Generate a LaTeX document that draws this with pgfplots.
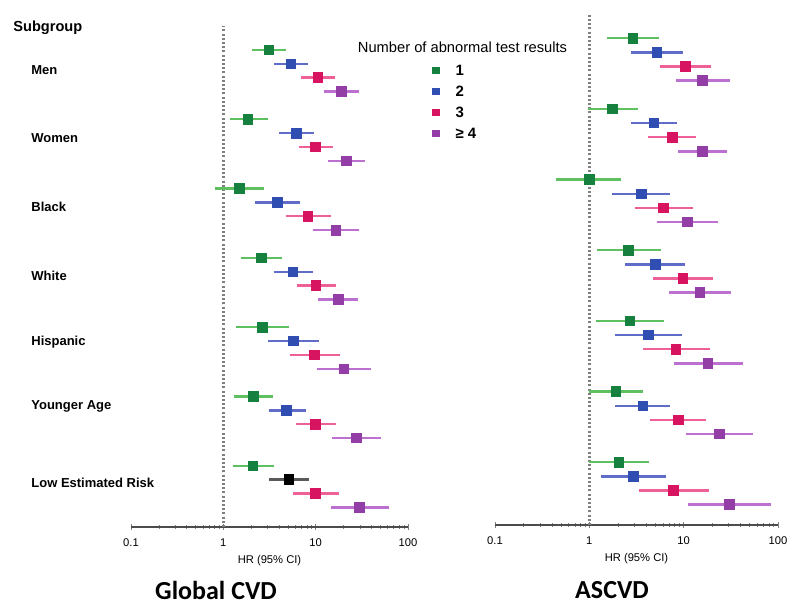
\documentclass[border=0pt]{standalone}
\usepackage{pgfplots}
\pgfplotsset{compat=1.18}
\usepackage{fontspec}
\setmainfont{Liberation Sans}
\newfontfamily\titlefont{Carlito}

\definecolor{gmk}{RGB}{22,128,62}
\definecolor{gln}{RGB}{95,192,95}
\definecolor{bmk}{RGB}{48,78,178}
\definecolor{bln}{RGB}{95,108,200}
\definecolor{pmk}{RGB}{214,20,96}
\definecolor{pln}{RGB}{240,96,152}
\definecolor{umk}{RGB}{146,62,166}
\definecolor{uln}{RGB}{188,112,208}
\definecolor{kmk}{RGB}{0,0,0}
\definecolor{kln}{RGB}{90,90,90}

\begin{document}
\begin{tikzpicture}
\useasboundingbox (0,0) rectangle (400pt,-305.5pt);

% ---------- Global CVD ----------
\begin{axis}[
  at={(65.5pt,-263.5pt)}, anchor=south west,
  scale only axis, clip=false,
  width=138.5pt, height=250.5pt,
  xmode=log, xmin=0.1, xmax=100,
  ymin=-34.42, ymax=1.73,
  axis x line=bottom, axis y line=none,
  axis line style={-, black!70, line width=0.9pt},
  xtick={0.1,1,10,100}, xticklabels={\mbox{0.1},\mbox{1},\mbox{10},\mbox{100}},
  tick align=center, major tick length=3pt, minor tick length=1.6pt,
  xticklabel style={font=\fontsize{5.6}{6}\selectfont, yshift=-1pt},
  xlabel={HR (95\% CI)},
  xlabel style={font=\fontsize{5.6}{6}\selectfont, yshift=2.5pt},
  legend style={at={(axis description cs:1.088,0.930)}, anchor=north west,
    draw=none, fill=none, inner sep=0pt, column sep=7pt, row sep=1.5pt,
    font=\fontsize{7.5}{8}\selectfont\bfseries,
    nodes={inner sep=1pt, text height=6pt, text depth=1pt}},
  legend cell align=left,
]
\addlegendimage{only marks, mark=square*, mark size=1.7pt, gmk}
\addlegendentry{1}
\addlegendimage{only marks, mark=square*, mark size=1.7pt, bmk}
\addlegendentry{2}
\addlegendimage{only marks, mark=square*, mark size=1.7pt, pmk}
\addlegendentry{3}
\addlegendimage{only marks, mark=square*, mark size=1.7pt, umk}
\addlegendentry{≥ 4}

\addplot[forget plot, gray, line width=1.2pt, dash pattern=on 1pt off 1.1pt] coordinates {(1,-34.42) (1,1.73)};
% 95% CI (lower, upper)
\addplot[forget plot, line width=1.2pt, unbounded coords=jump, gln] coordinates {(2.04,0) (4.80,0) (nan,nan) (1.17,-5) (3.01,-5) (nan,nan) (0.82,-10) (2.77,-10) (nan,nan) (1.55,-15) (4.31,-15) (nan,nan) (1.37,-20) (5.13,-20) (nan,nan) (1.32,-25) (3.45,-25) (nan,nan) (1.26,-30) (3.50,-30)};
\addplot[forget plot, line width=1.2pt, unbounded coords=jump, bln] coordinates {(3.56,-1) (8.24,-1) (nan,nan) (4.03,-6) (9.63,-6) (nan,nan) (2.22,-11) (6.80,-11) (nan,nan) (3.50,-16) (9.33,-16) (nan,nan) (3.07,-21) (10.9,-21) (nan,nan) (3.12,-26) (7.83,-26)};
\addplot[forget plot, line width=1.2pt, kln] coordinates {(3.12,-31) (8.44,-31)};
\addplot[forget plot, line width=1.2pt, unbounded coords=jump, pln] coordinates {(6.97,-2) (16.1,-2) (nan,nan) (6.52,-7) (15.6,-7) (nan,nan) (4.76,-12) (14.5,-12) (nan,nan) (6.26,-17) (16.5,-17) (nan,nan) (5.21,-22) (18.5,-22) (nan,nan) (6.11,-27) (16.7,-27) (nan,nan) (5.71,-32) (17.8,-32)};
\addplot[forget plot, line width=1.2pt, unbounded coords=jump, uln] coordinates {(12.4,-3) (29.7,-3) (nan,nan) (13.5,-8) (34.0,-8) (nan,nan) (9.33,-13) (29.7,-13) (nan,nan) (10.6,-18) (28.8,-18) (nan,nan) (10.3,-23) (40.1,-23) (nan,nan) (15.1,-28) (50.7,-28) (nan,nan) (14.6,-33) (62.3,-33)};
% HR point estimates
\addplot[forget plot, only marks, mark=square*, mark size=2.4pt, gmk] coordinates {(3.12,0) (1.85,-5) (1.50,-10) (2.57,-15) (2.64,-20) (2.13,-25) (2.09,-30)};
\addplot[forget plot, only marks, mark=square*, mark size=2.4pt, bmk] coordinates {(5.39,-1) (6.20,-6) (3.86,-11) (5.67,-16) (5.71,-21) (4.83,-26)};
\addplot[forget plot, only marks, mark=square*, mark size=2.4pt, kmk] coordinates {(5.13,-31)};
\addplot[forget plot, only marks, mark=square*, mark size=2.4pt, pmk] coordinates {(10.6,-2) (9.95,-7) (8.24,-12) (10.1,-17) (9.63,-22) (10.0,-27) (10.0,-32)};
\addplot[forget plot, only marks, mark=square*, mark size=2.4pt, umk] coordinates {(18.9,-3) (21.4,-8) (16.5,-13) (17.5,-18) (20.3,-23) (27.6,-28) (29.7,-33)};
\end{axis}

% ---------- ASCVD ----------
\begin{axis}[
  at={(247.5pt,-262.5pt)}, anchor=south west,
  scale only axis, clip=false,
  width=141.5pt, height=256pt,
  xmode=log, xmin=0.1, xmax=100,
  ymin=-34.44, ymax=1.79,
  axis x line=bottom, axis y line=none,
  axis line style={-, black!70, line width=0.9pt},
  xtick={0.1,1,10,100}, xticklabels={\mbox{0.1},\mbox{1},\mbox{10},\mbox{100}},
  tick align=center, major tick length=3pt, minor tick length=1.6pt,
  xticklabel style={font=\fontsize{5.6}{6}\selectfont, yshift=-1pt},
  xlabel={HR (95\% CI)},
  xlabel style={font=\fontsize{5.6}{6}\selectfont, yshift=2.5pt},
]
\addplot[forget plot, gray, line width=1.2pt, dash pattern=on 1pt off 1.1pt] coordinates {(1,-34.44) (1,1.79)};
\addplot[forget plot, line width=1.2pt, unbounded coords=jump, gln] coordinates {(1.54,0) (5.52,0) (nan,nan) (0.96,-5) (3.28,-5) (nan,nan) (0.44,-10) (2.18,-10) (nan,nan) (1.22,-15) (5.80,-15) (nan,nan) (1.18,-20) (6.14,-20) (nan,nan) (1.00,-25) (3.67,-25) (nan,nan) (1.00,-30) (4.30,-30)};
\addplot[forget plot, line width=1.2pt, unbounded coords=jump, bln] coordinates {(2.79,-1) (9.76,-1) (nan,nan) (2.74,-6) (8.51,-6) (nan,nan) (1.75,-11) (7.23,-11) (nan,nan) (2.41,-16) (10.4,-16) (nan,nan) (1.87,-21) (9.62,-21) (nan,nan) (1.87,-26) (7.11,-26) (nan,nan) (1.33,-31) (6.51,-31)};
\addplot[forget plot, line width=1.2pt, unbounded coords=jump, pln] coordinates {(5.66,-2) (19.7,-2) (nan,nan) (4.22,-7) (13.4,-7) (nan,nan) (3.02,-12) (12.5,-12) (nan,nan) (4.77,-17) (20.5,-17) (nan,nan) (3.71,-22) (18.9,-22) (nan,nan) (4.43,-27) (17.4,-27) (nan,nan) (3.37,-32) (18.7,-32)};
\addplot[forget plot, line width=1.2pt, unbounded coords=jump, uln] coordinates {(8.30,-3) (30.7,-3) (nan,nan) (8.64,-8) (28.8,-8) (nan,nan) (5.17,-13) (23.2,-13) (nan,nan) (7.00,-18) (31.8,-18) (nan,nan) (7.83,-23) (42.2,-23) (nan,nan) (10.6,-28) (54.5,-28) (nan,nan) (11.2,-33) (84.5,-33)};
\addplot[forget plot, only marks, mark=square*, mark size=2.4pt, gmk] coordinates {(2.91,0) (1.75,-5) (1.00,-10) (2.61,-15) (2.70,-20) (1.92,-25) (2.05,-30)};
\addplot[forget plot, only marks, mark=square*, mark size=2.4pt, bmk] coordinates {(5.22,-1) (4.85,-6) (3.56,-11) (5.01,-16) (4.22,-21) (3.71,-26) (2.93,-31)};
\addplot[forget plot, only marks, mark=square*, mark size=2.4pt, pmk] coordinates {(10.5,-2) (7.59,-7) (6.14,-12) (9.86,-17) (8.30,-22) (8.85,-27) (7.83,-32)};
\addplot[forget plot, only marks, mark=square*, mark size=2.4pt, umk] coordinates {(15.8,-3) (15.7,-8) (10.9,-13) (14.9,-18) (18.0,-23) (23.9,-28) (30.7,-33)};
\end{axis}

% ---------- Texts ----------
\node[anchor=west, font=\fontsize{7.3}{8}\selectfont\bfseries, inner sep=0pt] at (6.5pt,-14pt) {Subgroup};
\begin{scope}[every node/.style={anchor=west, inner sep=0pt, font=\fontsize{6.5}{7}\selectfont\bfseries}]
\node at (15.5pt,-35pt) {Men};
\node at (15.5pt,-69.2pt) {Women};
\node at (15.5pt,-103.4pt) {Black};
\node at (15.5pt,-137.9pt) {White};
\node at (15.5pt,-170.9pt) {Hispanic};
\node at (15.5pt,-203.4pt) {Younger Age};
\node at (15.5pt,-241.5pt) {Low Estimated Risk};
\end{scope}
\node[font=\fontsize{7.35}{8}\selectfont, inner sep=0pt] at (231.25pt,-23.4pt) {Number of abnormal test results};
\node[font=\titlefont\fontsize{13}{14}\selectfont\bfseries, inner sep=0pt] at (108pt,-295pt) {Global CVD};
\node[font=\titlefont\fontsize{13}{14}\selectfont\bfseries, inner sep=0pt] at (306pt,-295pt) {ASCVD};
\end{tikzpicture}
\end{document}
